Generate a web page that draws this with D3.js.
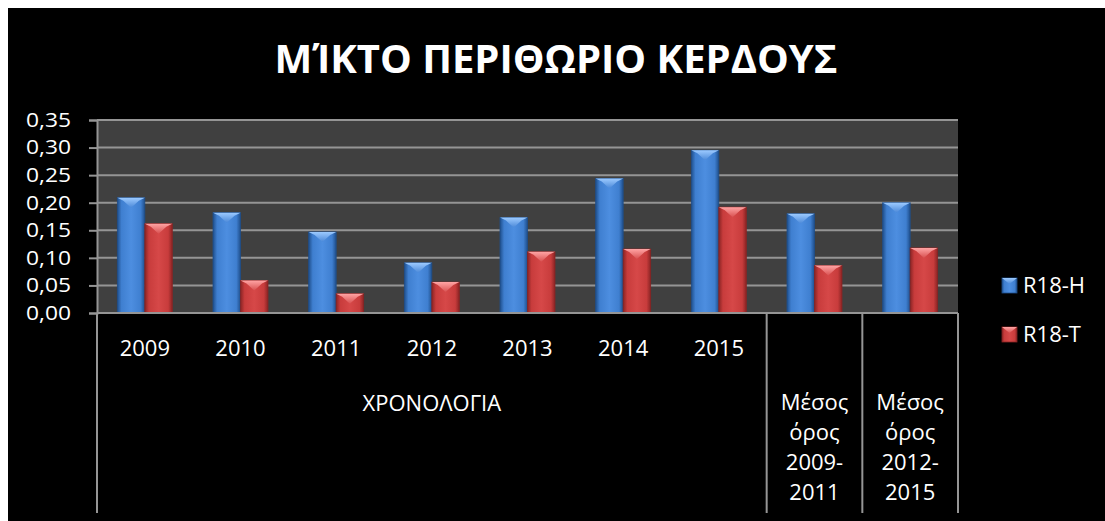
<!DOCTYPE html>
<html>
<head>
<meta charset="utf-8">
<script src="https://cdn.jsdelivr.net/npm/d3@7"></script>
<style>
  html, body { margin: 0; padding: 0; background: #ffffff; }
  svg { display: block; }
</style>
</head>
<body>
<svg id="chart" width="1105" height="521"></svg>
<script>
// Gross profit margin, two series per year plus two period averages
const categories = ["2009", "2010", "2011", "2012", "2013", "2014", "2015",
                    "Μέσος όρος 2009-2011", "Μέσος όρος 2012-2015"];
const categoryLines = [["2009"], ["2010"], ["2011"], ["2012"], ["2013"], ["2014"], ["2015"],
                       ["Μέσος", "όρος", "2009-", "2011"], ["Μέσος", "όρος", "2012-", "2015"]];
const seriesNames = ["R18-H", "R18-T"];
const valuesH = [0.209, 0.182, 0.147, 0.091, 0.173, 0.244, 0.295, 0.180, 0.200];
const valuesT = [0.162, 0.059, 0.035, 0.056, 0.111, 0.116, 0.192, 0.086, 0.118];
const yTicks = [0, 0.05, 0.10, 0.15, 0.20, 0.25, 0.30, 0.35];
const groupLabel = "ΧΡΟΝΟΛΟΓΙΑ";
const groupSize = 7;
const title = "ΜΊΚΤΟ ΠΕΡΙΘΩΡΙΟ ΚΕΡΔΟΥΣ";

const svg = d3.select("#chart");
const W = 1105, H = 521;
const plot = { left: 97, right: 958, top: 120, bottom: 313 };
const axisBottom = 513;
const font = "'Open Sans', 'DejaVu Sans', sans-serif";

// black panel inside a thin white margin
svg.append("rect").attr("x", 8).attr("y", 8).attr("width", W - 8).attr("height", H - 8).attr("fill", "#000");

const defs = svg.append("defs");
const palettes = {
  "R18-H": { edge: "#1f4f8c", mid: "#3f7fd0", hi: "#4d8ee0", top: "#9ccaff", topDark: "#4a88d8" },
  "R18-T": { edge: "#8a2424", mid: "#c83c3c", hi: "#d64848", top: "#ffa4a4", topDark: "#d85050" }
};
Object.entries(palettes).forEach(([name, p], i) => {
  const g = defs.append("linearGradient").attr("id", "body" + i).attr("x1", 0).attr("x2", 1).attr("y1", 0).attr("y2", 0);
  g.append("stop").attr("offset", "0%").attr("stop-color", p.edge);
  g.append("stop").attr("offset", "15%").attr("stop-color", p.mid);
  g.append("stop").attr("offset", "50%").attr("stop-color", p.hi);
  g.append("stop").attr("offset", "85%").attr("stop-color", p.mid);
  g.append("stop").attr("offset", "100%").attr("stop-color", p.edge);
  const t = defs.append("linearGradient").attr("id", "top" + i).attr("x1", 0).attr("x2", 0).attr("y1", 0).attr("y2", 1);
  t.append("stop").attr("offset", "0%").attr("stop-color", p.top);
  t.append("stop").attr("offset", "100%").attr("stop-color", p.topDark);
});

const x0 = d3.scaleBand().domain(categories).range([plot.left, plot.right]).paddingInner(0).paddingOuter(0);
const x1 = d3.scaleBand().domain(seriesNames).range([0, x0.bandwidth()]).paddingInner(0).paddingOuter(0.74);
const y = d3.scaleLinear().domain([0, 0.35]).range([plot.bottom, plot.top]);

// plot background
svg.append("rect")
  .attr("x", plot.left).attr("y", plot.top)
  .attr("width", plot.right - plot.left).attr("height", plot.bottom - plot.top)
  .attr("fill", "#404040");

// gridlines
svg.append("g").selectAll("line").data(yTicks.slice(1)).join("line")
  .attr("x1", plot.left).attr("x2", plot.right)
  .attr("y1", d => y(d)).attr("y2", d => y(d))
  .attr("stroke", "#959595").attr("stroke-width", 2);

// y axis
const fmt = d => d3.format(".2f")(d).replace(".", ",");
const yAxis = svg.append("g").attr("transform", `translate(${plot.left},0)`)
  .call(d3.axisLeft(y).tickValues(yTicks).tickFormat(fmt).tickSize(8).tickPadding(18));
yAxis.select(".domain").attr("stroke", "#959595").attr("stroke-width", 2);
yAxis.selectAll(".tick line").attr("stroke", "#959595").attr("stroke-width", 2);
yAxis.selectAll(".tick text").attr("fill", "#fff").attr("font-family", font).attr("font-size", 20)
  .attr("textLength", 45).attr("lengthAdjust", "spacingAndGlyphs");

// bars
const rows = categories.map((c, i) => ({ cat: c, vals: [valuesH[i], valuesT[i]] }));
const groups = svg.append("g").selectAll("g").data(rows).join("g")
  .attr("transform", d => `translate(${x0(d.cat)},0)`);
seriesNames.forEach((s, si) => {
  const bw = x1.bandwidth();
  groups.append("rect")
    .attr("x", x1(s)).attr("width", bw)
    .attr("y", d => y(d.vals[si])).attr("height", d => y(0) - y(d.vals[si]))
    .attr("fill", `url(#body${si})`)
    .attr("stroke", palettes[s].edge).attr("stroke-width", 0.8);
  groups.append("path")
    .attr("d", d => {
      const xa = x1(s), xb = x1(s) + bw, yt = y(d.vals[si]);
      return `M${xa},${yt} L${xb},${yt} L${xb - 6},${yt + 3} L${xa + bw / 2},${yt + 10} L${xa + 6},${yt + 3} Z`;
    })
    .attr("fill", `url(#top${si})`);
});

// category axis line and separators
const axisColor = "#959595";
svg.append("line").attr("x1", plot.left).attr("x2", plot.right)
  .attr("y1", plot.bottom).attr("y2", plot.bottom)
  .attr("stroke", axisColor).attr("stroke-width", 2);
const seps = [categories[0], categories[groupSize], categories[groupSize + 1]].map(c => x0(c));
seps.push(plot.right);
svg.append("g").selectAll("line").data(seps).join("line")
  .attr("x1", d => d).attr("x2", d => d)
  .attr("y1", plot.bottom).attr("y2", axisBottom)
  .attr("stroke", axisColor).attr("stroke-width", 2);

// category labels
const labelG = svg.append("g").attr("fill", "#fff").attr("font-family", font).attr("font-size", 22).attr("text-anchor", "middle");
categories.forEach((c, i) => {
  const lines = categoryLines[i];
  const cx = x0(c) + x0.bandwidth() / 2;
  const startY = lines.length === 1 ? 356 : 410;
  lines.forEach((ln, k) => {
    labelG.append("text").attr("x", cx).attr("y", startY + k * 30).text(ln);
  });
});
labelG.append("text")
  .attr("x", (x0(categories[0]) + x0(categories[groupSize - 1]) + x0.bandwidth()) / 2)
  .attr("y", 411).text(groupLabel);

// legend
const leg = svg.append("g");
seriesNames.forEach((s, i) => {
  const ly = 278 + i * 49;
  leg.append("rect").attr("x", 1002).attr("y", ly).attr("width", 15).attr("height", 15)
    .attr("fill", `url(#body${i})`).attr("stroke", palettes[s].edge).attr("stroke-width", 0.8);
  leg.append("path").attr("d", `M1002,${ly} L1017,${ly} L1009.5,${ly + 6} Z`).attr("fill", `url(#top${i})`);
  leg.append("text").attr("x", 1023).attr("y", ly + 15)
    .attr("fill", "#fff").attr("font-family", font).attr("font-size", 22).text(s);
});

// title
svg.append("text")
  .attr("x", 556).attr("y", 73)
  .attr("text-anchor", "middle")
  .attr("fill", "#fff").attr("font-family", font).attr("font-weight", 700).attr("font-size", 40)
  .attr("textLength", 563).attr("lengthAdjust", "spacingAndGlyphs")
  .text(title);
</script>
</body>
</html>
